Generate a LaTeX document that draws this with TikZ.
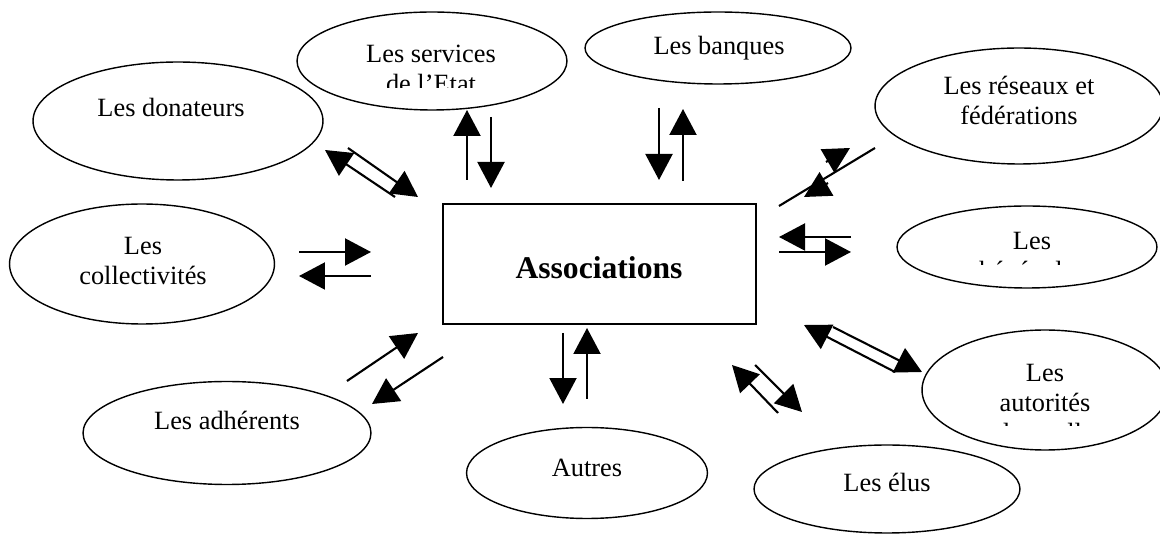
\documentclass[tikz,border=0pt]{standalone}
\usepackage{fontspec}
\setmainfont{Liberation Serif}
\usetikzlibrary{arrows.meta,shapes.geometric}
\begin{document}
\begin{tikzpicture}[x=0.02cm,y=-0.02cm,
  ell/.style={draw,ellipse,line width=0.8pt,inner sep=0pt},
  lbl/.style={anchor=base,font=\fontsize{15}{17}\selectfont,inner sep=0pt},
  arr/.style={line width=1.2pt,-{Triangle[length=0.52cm,width=0.54cm]}},
  shaft/.style={line width=1.2pt}]
\useasboundingbox[fill=white] (0,0) rectangle (1160,536);

% ellipses
\node[ell,minimum width=5.8cm,minimum height=2.36cm] (don) at (178,121) {};
\node[ell,minimum width=5.4cm,minimum height=1.96cm] (serv) at (432,61) {};
\node[ell,minimum width=5.32cm,minimum height=1.44cm] (banq) at (718,48) {};
\node[ell,minimum width=5.76cm,minimum height=2.32cm] (res) at (1019,106) {};
\node[ell,minimum width=5.2cm,minimum height=1.64cm] (ben) at (1027,247) {};
\node[ell,minimum width=4.92cm,minimum height=2.4cm] (aut) at (1045,390) {};
\node[ell,minimum width=5.32cm,minimum height=1.76cm] (elus) at (887,489) {};
\node[ell,minimum width=4.82cm,minimum height=1.82cm] (autres) at (587,473) {};
\node[ell,minimum width=5.76cm,minimum height=2.06cm] (adh) at (227,433) {};
\node[ell,minimum width=5.3cm,minimum height=2.4cm] (coll) at (142,264) {};
\node[draw,line width=1.1pt,minimum width=6.26cm,minimum height=2.4cm,inner sep=0pt] (assoc) at (599.5,264) {};

% labels
\node[lbl] (t-don) at (171,117) {Les donateurs};
\begin{scope}
  \clip (300,20) rectangle (565,88);
  \node[lbl] (t-serv1) at (431,63) {Les services};
  \node[lbl] (t-serv2) at (431,93) {de l’Etat};
\end{scope}
\node[lbl] (t-banq) at (719,55) {Les banques};
\node[lbl] (t-res1) at (1019,95) {Les réseaux et};
\node[lbl] (t-res2) at (1019,125) {fédérations};
\begin{scope}
  \clip (900,215) rectangle (1160,265);
  \node[lbl] (t-ben1) at (1032,250) {Les};
  \node[lbl] (t-ben2) at (1032,280) {bénévoles};
\end{scope}
\begin{scope}
  \clip (925,345) rectangle (1160,426);
  \node[lbl] (t-aut1) at (1045,382) {Les};
  \node[lbl] (t-aut2) at (1045,412) {autorités};
  \node[lbl] (t-aut3) at (1045,442) {de tutelle};
\end{scope}
\node[lbl] (t-elus) at (887,492) {Les élus};
\node[lbl] (t-autres) at (587,477) {Autres};
\node[lbl] (t-adh) at (227,430) {Les adhérents};
\node[lbl] (t-coll1) at (143,255) {Les};
\node[lbl] (t-coll2) at (143,285) {collectivités};
\node[anchor=base,inner sep=0pt,font=\fontsize{18}{20}\selectfont\bfseries] (t-assoc) at (599,279) {Associations};

% arrow end points
\coordinate (c1a) at (299,252); \coordinate (c1b) at (371,252);
\coordinate (c2a) at (371,276); \coordinate (c2b) at (299,276);
\coordinate (a1a) at (347,381); \coordinate (a1b) at (418,333);
\coordinate (a2a) at (443,357); \coordinate (a2b) at (372,404);
\coordinate (s1a) at (467,180); \coordinate (s1b) at (467,110);
\coordinate (s2a) at (491,117); \coordinate (s2b) at (491,188);
\coordinate (b1a) at (659,108); \coordinate (b1b) at (659,180);
\coordinate (b2a) at (683,181); \coordinate (b2b) at (683,109);
\coordinate (d1a) at (395,197); \coordinate (d1b) at (325,150);
\coordinate (d2a) at (348,148); \coordinate (d2b) at (418,197);
\coordinate (r0a) at (779,206); \coordinate (r0b) at (875,148);
\coordinate (r1a) at (826,162); \coordinate (r1b) at (850,148);
\coordinate (r2a) at (828,183); \coordinate (r2b) at (804,197);
\coordinate (n1a) at (851,237); \coordinate (n1b) at (779,237);
\coordinate (n2a) at (779,252); \coordinate (n2b) at (851,252);
\coordinate (u1a) at (895,372); \coordinate (u1b) at (804,325);
\coordinate (u2a) at (833,327); \coordinate (u2b) at (922,372);
\coordinate (e1a) at (778,413); \coordinate (e1b) at (732,365);
\coordinate (e2a) at (755,365); \coordinate (e2b) at (802,412);
\coordinate (o1a) at (563,333); \coordinate (o1b) at (563,404);
\coordinate (o2a) at (587,399); \coordinate (o2b) at (587,328);

% arrows
\draw[arr] (c1a) -- (c1b);
\draw[arr] (c2a) -- (c2b);
\draw[arr] (a1a) -- (a1b);
\draw[arr] (a2a) -- (a2b);
\draw[arr] (s1a) -- (s1b);
\draw[arr] (s2a) -- (s2b);
\draw[arr] (b1a) -- (b1b);
\draw[arr] (b2a) -- (b2b);
\draw[arr] (d1a) -- (d1b);
\draw[arr] (d2a) -- (d2b);
\draw[shaft] (r0a) -- (r0b);
\draw[arr] (r1a) -- (r1b);
\draw[arr] (r2a) -- (r2b);
\draw[arr] (n1a) -- (n1b);
\draw[arr] (n2a) -- (n2b);
\draw[arr] (u1a) -- (u1b);
\draw[arr] (u2a) -- (u2b);
\draw[arr] (e1a) -- (e1b);
\draw[arr] (e2a) -- (e2b);
\draw[arr] (o1a) -- (o1b);
\draw[arr] (o2a) -- (o2b);
\end{tikzpicture}
\end{document}
